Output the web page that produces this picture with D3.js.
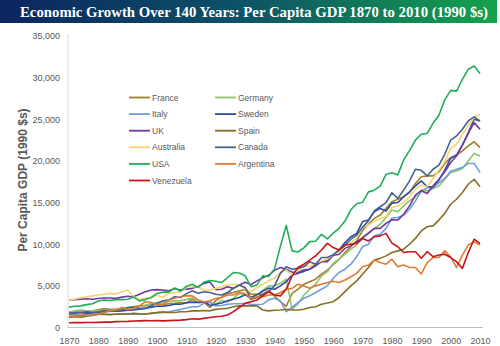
<!DOCTYPE html>
<html>
<head>
<meta charset="utf-8">
<script src="https://cdn.jsdelivr.net/npm/d3@7/dist/d3.min.js"></script>
<style>
  body { margin: 0; background: #fff; }
  svg { display: block; }
</style>
</head>
<body>
<svg id="chart" width="500" height="346"></svg>
<script>
// Per capita GDP, 1990 international dollars, sampled every second year 1870-2010
const years = d3.range(1870, 2011, 2);

const france = [
  1876, 1900, 2050, 1950, 2000,  2120, 2250, 2200, 2200, 2250,
  2376, 2500, 2600, 2600, 2800,  2876, 2750, 2850, 2900, 3000,
  2937, 3400, 3000, 3000, 2400,  3227, 3650, 4100, 4200, 4400,
  4532, 4000, 4000, 4000, 4424,  3800, 3100, 2550, 4100, 4600,
  5186, 5500, 5800, 6400, 6900,  7546, 8200, 9000, 9700, 10400,
  11664, 12400, 13100, 13500, 14300,  15106, 15400, 15700, 16200, 17300,
  18093, 18200, 18200, 18700, 19700,  20392, 20700, 21200, 21800, 22300,
  21600
];
const germany = [
  1839, 2000, 2100, 2000, 2000,  1991, 2000, 2100, 2150, 2300,
  2428, 2500, 2600, 2700, 2850,  2985, 2950, 3100, 3200, 3250,
  3348, 3550, 3050, 3000, 2950,  2796, 3250, 3050, 3500, 4100,
  3973, 3362, 3900, 4450, 4994,  5000, 5300, 5800, 2217, 2834,
  3881, 4600, 5200, 6200, 6700,  7705, 8200, 8800, 9400, 9900,
  10839, 11400, 11900, 12400, 13200,  14114, 13900, 14600, 15200, 15700,
  16500, 16400, 16700, 17000, 17800,  18600, 18800, 19100, 20000, 20900,
  20600
];
const italy = [
  1499, 1550, 1500, 1550, 1530,  1581, 1570, 1560, 1620, 1600,
  1667, 1600, 1600, 1650, 1660,  1785, 1850, 1900, 2050, 2150,
  2332, 2500, 2500, 2900, 3100,  2587, 2650, 2800, 2850, 2850,
  2918, 2800, 2750, 2800, 3316,  3505, 3200, 1900, 2450, 3000,
  3502, 3800, 4200, 4600, 5000,  5916, 6600, 7000, 7600, 8500,
  9719, 10000, 11000, 11200, 11900,  13149, 13200, 13500, 14200, 15200,
  16313, 16800, 16800, 17400, 17900,  18774, 19000, 19200, 19700, 19700,
  18600
];
const sweden = [
  1662, 1750, 1800, 1850, 1800,  1846, 1900, 1950, 1950, 2000,
  2086, 2100, 2200, 2300, 2450,  2561, 2550, 2650, 2800, 2800,
  2980, 3050, 3000, 3100, 2650,  2802, 2950, 3200, 3400, 3600,
  3937, 3600, 3950, 4350, 4725,  4600, 5000, 5500, 6300, 6500,
  6739, 7000, 7400, 7900, 8100,  8688, 9300, 10200, 10900, 11300,
  12716, 12900, 13900, 14300, 14000,  14937, 15000, 15700, 16300, 17000,
  17609, 16900, 16900, 17700, 18900,  20321, 20700, 21900, 23400, 25000,
  24800
];
const uk = [
  3300, 3350, 3400, 3450, 3400,  3480, 3550, 3550, 3500, 3650,
  3750, 3700, 4000, 4300, 4500,  4550, 4500, 4400, 4650, 4500,
  4611, 4700, 4927, 5300, 5459,  4548, 4600, 4900, 4700, 5100,
  5441, 5148, 5600, 5960, 6266,  6856, 7200, 7000, 6650, 6600,
  6939, 7000, 7600, 7900, 7900,  8645, 8800, 9500, 9800, 10300,
  10767, 11300, 11900, 11900, 12500,  12931, 12900, 13600, 14600, 15900,
  16430, 16100, 17000, 17800, 18700,  19817, 20600, 21900, 23300, 24600,
  23800
];
const spain = [
  1207, 1300, 1250, 1350, 1450,  1600, 1600, 1550, 1600, 1600,
  1624, 1700, 1650, 1600, 1750,  1786, 1850, 1800, 1800, 1900,
  1895, 2000, 2000, 2050, 2000,  2177, 2250, 2300, 2500, 2600,
  2620, 2600, 2600, 2100, 2000,  2080, 2100, 2200, 2100, 2100,
  2200, 2400, 2500, 2800, 2950,  3100, 3600, 4300, 5000, 5600,
  6400, 7200, 8100, 8300, 8600,  9000, 9200, 9400, 10000, 10700,
  11600, 12100, 12200, 12900, 13700,  14800, 15400, 16200, 17200, 17800,
  16900
];
const australia = [
  3273, 3400, 3600, 3700, 3800,  3900, 4000, 4100, 4000, 4300,
  4500, 3700, 3400, 3500, 3600,  3900, 3600, 4100, 4200, 4300,
  4800, 4900, 4900, 4500, 4500,  4700, 4900, 5100, 5200, 5100,
  4600, 4300, 4800, 5200, 5600,  5900, 6600, 6900, 6300, 6900,
  7412, 7300, 7700, 8000, 8200,  8791, 9000, 9800, 10200, 10800,
  12024, 12300, 12800, 13100, 13300,  14412, 14600, 15000, 15700, 16600,
  17106, 16900, 17900, 18900, 19900,  21500, 22000, 23200, 24200, 25200,
  25600
];
const canada = [
  1695, 1750, 1800, 1700, 1750,  1816, 2000, 2050, 2000, 2100,
  2378, 2450, 2300, 2300, 2600,  2911, 3200, 3300, 3700, 3600,
  4066, 4400, 4100, 4300, 4200,  4000, 3900, 4200, 4700, 5100,
  4811, 3400, 3600, 4000, 4300,  5000, 6500, 7300, 7000, 7100,
  7291, 7900, 7600, 8400, 8400,  8753, 9300, 9900, 10600, 11100,
  12050, 12800, 14000, 14500, 15000,  16176, 15500, 16500, 17600, 19000,
  18872, 18200, 19000, 19500, 20800,  22488, 23000, 23800, 24800, 25300,
  24800
];
const usa = [
  2445, 2560, 2600, 2750, 2850,  3184, 3300, 3250, 3350, 3350,
  3392, 3650, 3200, 3350, 3600,  4091, 4250, 4250, 4750, 4350,
  4964, 5200, 4800, 5450, 5650,  5552, 5400, 6000, 6600, 6550,
  6213, 4901, 5114, 6204, 6126,  7010, 9741, 12241, 9197, 9065,
  9561, 10316, 10359, 11185, 10630,  11328, 11905, 12773, 14134, 14863,
  15030, 16284, 16491, 16975, 18373,  18577, 18325, 20123, 21236, 22499,
  23201, 23298, 24517, 25487, 27331,  28467, 28376, 29800, 31000, 31400,
  30500
];
const argentina = [
  1311, 1400, 1500, 1450, 1500,  1600, 1800, 2000, 2100, 2400,
  2152, 2300, 2600, 3100, 3000,  2756, 2800, 3300, 3500, 3700,
  3822, 3800, 3300, 3100, 3200,  3473, 3600, 3900, 3900, 4200,
  4080, 3522, 3700, 3700, 3900,  3900, 4200, 4600, 4700, 5200,
  4987, 4700, 5000, 5200, 5400,  5559, 5400, 5700, 6100, 6500,
  7302, 7500, 8100, 7800, 7600,  8206, 7300, 7500, 7200, 7200,
  6433, 7800, 8400, 8400, 9200,  8500, 7200, 8700, 9900, 10300,
  9900
];
const venezuela = [
  569, 580, 590, 600, 600,  620, 640, 650, 700, 720,
  740, 780, 800, 820, 810,  821, 800, 820, 850, 880,
  950, 1050, 1000, 1100, 1200,  1300, 1350, 1500, 1900, 2400,
  2900, 3100, 3300, 3800, 4300,  3900, 3800, 4600, 6200, 7200,
  7600, 8100, 8600, 9300, 10100,  9600, 9300, 9900, 10000, 10100,
  10672, 10400, 10900, 11000, 11300,  10139, 9700, 9000, 9100, 9100,
  8313, 9100, 8500, 8700, 8800,  8400, 7900, 7100, 9000, 10600,
  10100
];

const seriesNames = ["France", "Germany", "Italy", "Sweden", "UK", "Spain",
                     "Australia", "Canada", "USA", "Argentina", "Venezuela"];
const seriesValues = [france, germany, italy, sweden, uk, spain,
                      australia, canada, usa, argentina, venezuela];
const seriesColors = ["#a47e2c", "#8dc46c", "#6f9de0", "#2f4d9e", "#7636a6", "#857024",
                      "#f6d46c", "#45628f", "#1fae5a", "#e27b30", "#c8141b"];

const xTickValues = [1870, 1880, 1890, 1900, 1910, 1920, 1930, 1940,
                     1950, 1960, 1970, 1980, 1990, 2000, 2010];
const yTickValues = [0, 5000, 10000, 15000, 20000, 25000, 30000, 35000];

const titleText = "Economic Growth Over 140 Years: Per Capita GDP 1870 to 2010 (1990 $s)";
const yTitleText = "Per Capita GDP (1990 $s)";

const svg = d3.select("#chart");
const labelColor = "#595959";
const sans = "'Liberation Sans', Arial, sans-serif";

// Title banner
const defs = svg.append("defs");
const grad = defs.append("linearGradient").attr("id", "bannerGrad")
  .attr("x1", "0%").attr("x2", "100%").attr("y1", "0%").attr("y2", "0%");
grad.append("stop").attr("offset", "0%").attr("stop-color", "#0b2560");
grad.append("stop").attr("offset", "50%").attr("stop-color", "#0d5466");
grad.append("stop").attr("offset", "100%").attr("stop-color", "#15a24b");

svg.append("rect").attr("x", 0).attr("y", 0).attr("width", 497).attr("height", 23)
  .attr("fill", "url(#bannerGrad)");
svg.append("text")
  .attr("x", 20).attr("y", 16.5)
  .attr("textLength", 468).attr("lengthAdjust", "spacingAndGlyphs")
  .attr("fill", "#fff")
  .style("font-family", "'Liberation Serif', 'DejaVu Serif', serif")
  .style("font-weight", "bold")
  .style("font-size", "15px")
  .text(titleText);

// Scales
const x = d3.scaleLinear().domain([1870, 2010]).range([69, 480]);
const y = d3.scaleLinear().domain([0, 35000]).range([327.5, 36]);

// Axis lines
svg.append("line").attr("x1", 68).attr("x2", 68).attr("y1", 34).attr("y2", 327.5)
  .attr("stroke", "#d9d9d9").attr("stroke-width", 1);
svg.append("line").attr("x1", 68).attr("x2", 483).attr("y1", 327.5).attr("y2", 327.5)
  .attr("stroke", "#bfbfbf").attr("stroke-width", 1);

// Y axis
const yAxis = svg.append("g").attr("transform", "translate(68,0)")
  .call(d3.axisLeft(y).tickValues(yTickValues).tickSize(0).tickPadding(8)
    .tickFormat(d3.format(",")));
yAxis.select(".domain").remove();
yAxis.selectAll("text").attr("fill", labelColor)
  .style("font-family", sans).style("font-size", "9px");

// X axis
const xAxis = svg.append("g").attr("transform", "translate(0,327.5)")
  .call(d3.axisBottom(x).tickValues(xTickValues).tickSize(0).tickPadding(10)
    .tickFormat(d3.format("d")));
xAxis.select(".domain").remove();
xAxis.selectAll("text").attr("fill", labelColor)
  .style("font-family", sans).style("font-size", "9px");

// Y axis title
svg.append("text")
  .attr("transform", "translate(27,180) rotate(-90)")
  .attr("text-anchor", "middle")
  .attr("fill", labelColor)
  .style("font-family", sans).style("font-weight", "bold").style("font-size", "12px")
  .text(yTitleText);

// Series lines
const line = d3.line()
  .x((d, i) => x(years[i]))
  .y(d => y(d));

svg.append("g").selectAll("path")
  .data(seriesValues)
  .join("path")
  .attr("d", line)
  .attr("fill", "none")
  .attr("stroke", (d, i) => seriesColors[i])
  .attr("stroke-width", 1.6)
  .attr("stroke-linejoin", "round");

// Legend, two columns
const legend = svg.append("g");
const rowY = i => 97.5 + Math.floor(i / 2) * 16.6;
const colX = i => (i % 2 === 0 ? 129 : 215);
seriesNames.forEach((name, i) => {
  const g = legend.append("g").attr("transform", `translate(${colX(i)},${rowY(i)})`);
  g.append("line").attr("x1", 0).attr("x2", 21).attr("y1", 0).attr("y2", 0)
    .attr("stroke", seriesColors[i]).attr("stroke-width", 1.8);
  g.append("text").attr("x", 23).attr("y", 3)
    .attr("fill", labelColor)
    .style("font-family", sans).style("font-size", "8.5px")
    .text(name);
});
</script>
</body>
</html>
